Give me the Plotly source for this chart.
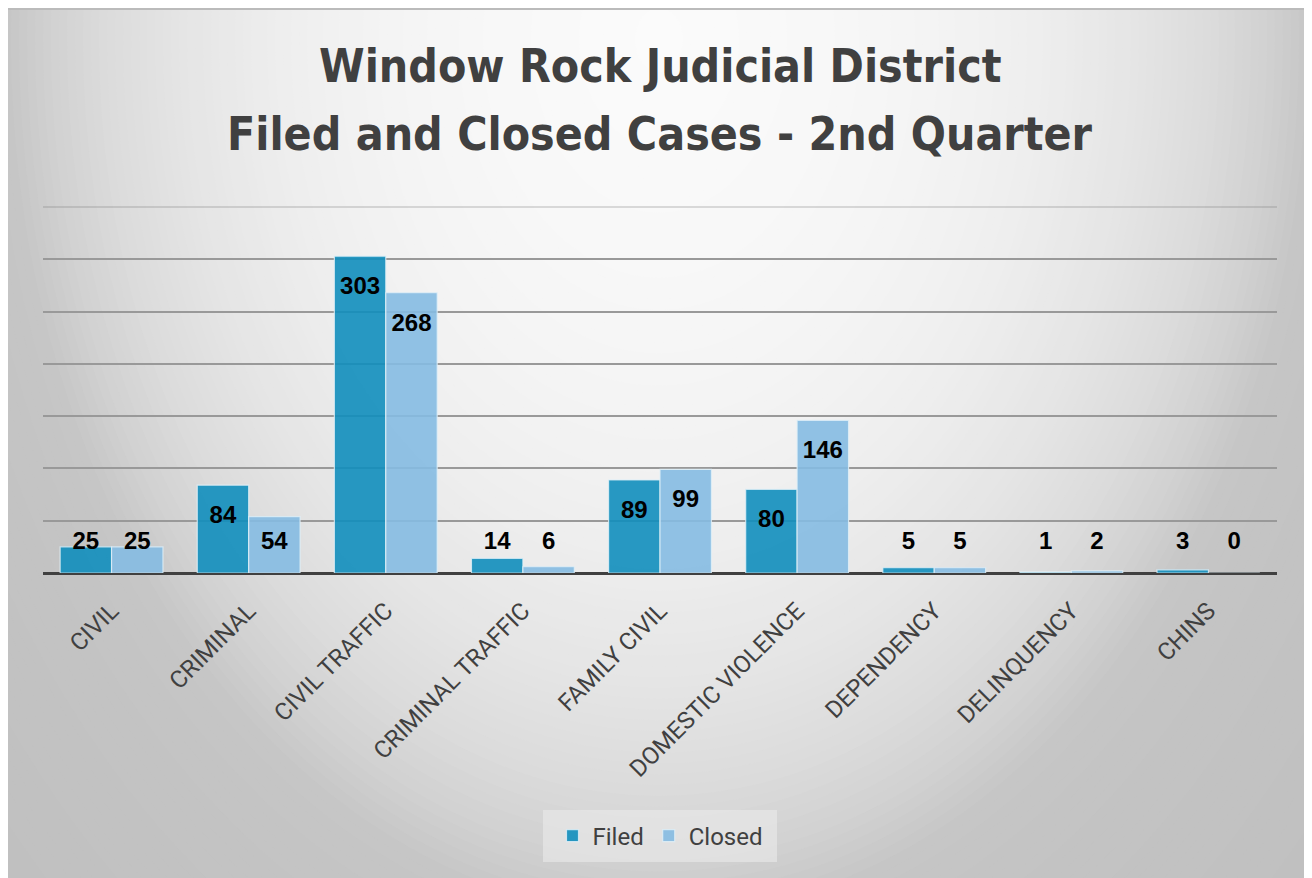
import numpy as np
import plotly.graph_objects as go

# ---------------- data ----------------
categories = ["CIVIL", "CRIMINAL", "CIVIL TRAFFIC", "CRIMINAL TRAFFIC", "FAMILY CIVIL",
              "DOMESTIC VIOLENCE", "DEPENDENCY", "DELINQUENCY", "CHINS"]
filed = [25, 84, 303, 14, 89, 80, 5, 1, 3]
closed = [25, 54, 268, 6, 99, 146, 5, 2, 0]
title_lines = ["Window Rock Judicial District", "Filed and Closed Cases - 2nd Quarter"]

# ---------------- layout geometry (screen pixels; page body has an 8px margin) ----------------
OFF = 8
W, H = 1312 - OFF, 878 - OFF
ML, MR, MT, MB = 43 - OFF, 35, 207 - OFF, 305
PW, PH = W - ML - MR, H - MT - MB
YMAX = 350


def px2x(px):
    return (px - OFF - ML) / PW


def py2y(py):
    return (H - MB - (py - OFF)) / PH


def pixrect(X0, Y0, X1, Y1, color):
    return dict(type="rect", layer="below", xref="paper", yref="paper",
                xsizemode="pixel", ysizemode="pixel",
                xanchor=px2x(X0), yanchor=py2y(Y0),
                x0=0, x1=X1 - X0, y0=0, y1=-(Y1 - Y0),
                fillcolor=color, line=dict(width=0))


# ---------------- background: radial gradient rings ----------------
cx, cy, stretch = 659, 40, 1.35
grad_d = [0, 162, 276, 348, 406, 457, 497, 533, 564, 592, 617, 638, 653, 700, 900, 1400]
grad_c = [251, 248, 244, 240, 236, 231, 227, 222, 218, 213, 208, 203, 198, 196, 192, 190]
shapes = [pixrect(0, 0, 1312, 878, "rgb(190,190,190)")]
for d in np.arange(1000, 0, -8):
    c = int(round(np.interp(d, grad_d, grad_c)))
    shapes.append(dict(type="circle", layer="below", xref="paper", yref="paper",
                       xsizemode="pixel", ysizemode="pixel",
                       xanchor=px2x(cx), yanchor=py2y(cy),
                       x0=-d, x1=d, y0=-d * stretch, y1=d * stretch,
                       fillcolor=f"rgb({c},{c},{c})", line=dict(width=0)))
# frame top edge
shapes.append(pixrect(OFF, OFF, 1312, OFF + 2, "rgb(187,187,187)"))
# top boundary line of plot area (lighter)
shapes.append(dict(type="line", layer="below", xref="paper", yref="paper",
                   x0=0, x1=1, y0=1, y1=1, line=dict(color="rgba(120,120,120,0.25)", width=2)))
# legend box
shapes.append(pixrect(543, 810, 777, 862, "rgba(236,236,236,0.55)"))

# ---------------- traces ----------------
x = np.arange(len(categories))
bw = 0.375
filed_color = "rgba(17,142,188,0.9)"
closed_color = "rgba(133,187,226,0.9)"

fig = go.Figure()
fig.add_trace(go.Bar(x=x, y=filed, name="Filed", offset=-bw, width=bw,
                     marker=dict(color=filed_color, line=dict(color="rgba(225,240,248,0.8)", width=1.2))))
fig.add_trace(go.Bar(x=x, y=closed, name="Closed", offset=0, width=bw,
                     marker=dict(color=closed_color, line=dict(color="rgba(225,240,248,0.8)", width=1.2))))

# data labels: inside end, but kept above a minimum height
px_per_unit = PH / YMAX
lab_inside = 32 / px_per_unit
lab_min = 30 / px_per_unit
for vals, off in ((filed, -bw / 2), (closed, bw / 2)):
    fig.add_trace(go.Scatter(
        x=x + off, y=[max(v - lab_inside, lab_min) for v in vals],
        text=[str(v) for v in vals], mode="text", showlegend=False, hoverinfo="skip",
        textposition="middle center",
        textfont=dict(family="Liberation Sans, Arial, sans-serif", size=24, color="black", weight="bold")))

# ---------------- title ----------------
annotations = []
for line, ypx in zip(title_lines, (66, 134)):
    annotations.append(dict(text=line, xref="paper", yref="paper", x=px2x(660), y=py2y(ypx),
                            xanchor="center", yanchor="middle", showarrow=False,
                            font=dict(family="Liberation Sans Narrow, DejaVu Sans Condensed, sans-serif",
                                      size=46, color="#404040", weight="bold")))

fig.update_layout(
    width=W, height=H,
    margin=dict(l=ML, r=MR, t=MT, b=MB, autoexpand=False),
    paper_bgcolor="white", plot_bgcolor="rgba(0,0,0,0)",
    shapes=shapes, annotations=annotations,
    barmode="overlay",
    showlegend=True,
    legend=dict(orientation="h", x=px2x(660), xanchor="center", y=py2y(836), yanchor="middle",
                bgcolor="rgba(0,0,0,0)", font=dict(family="Roboto, sans-serif", size=24, color="#404040"),
                itemclick=False),
    xaxis=dict(range=[-0.5, len(categories) - 0.5], tickvals=list(x), ticktext=categories,
               tickangle=-45, showgrid=False, zeroline=False, showline=False, ticks="",
               ticklabelstandoff=18,
               tickfont=dict(family="Roboto, sans-serif", size=24, color="#404040")),
    yaxis=dict(range=[0, YMAX], tickvals=list(range(50, YMAX, 50)), showticklabels=False,
               showgrid=True, gridcolor="#999999", gridwidth=2,
               zeroline=True, zerolinecolor="#404040", zerolinewidth=3, showline=False),
)

fig.write_html("out.html")
